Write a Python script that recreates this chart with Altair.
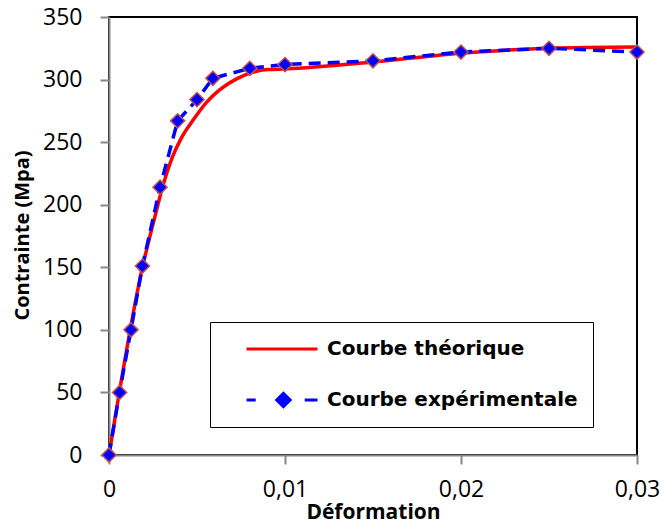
import altair as alt
import pandas as pd

series_names = ["Courbe théorique", "Courbe expérimentale"]

theo_x = [0, 0.0019, 0.0026, 0.0031, 0.0036, 0.0041, 0.0048, 0.00555, 0.0063, 0.0073, 0.0082, 0.0090, 0.0100, 0.0150, 0.0200, 0.0250, 0.0300]
theo_y = [0, 150, 190, 217, 238, 253, 268, 282, 292, 301, 306, 308, 308.5, 314, 321, 325, 326]

exp_x = [0, 0.0006, 0.00125, 0.0019, 0.0029, 0.0039, 0.0050, 0.0059, 0.0080, 0.0100, 0.0150, 0.0200, 0.0250, 0.0300]
exp_y = [0, 50, 100, 151, 214, 267, 284, 301, 309, 312, 315, 322, 325, 322]

x_ticks = [0, 0.01, 0.02, 0.03]
y_ticks = [0, 50, 100, 150, 200, 250, 300, 350]

df_theo = pd.DataFrame({"x": theo_x, "y": theo_y, "series": series_names[0]})
df_exp = pd.DataFrame({"x": exp_x, "y": exp_y, "series": series_names[1]})
df_all = pd.concat([df_theo, df_exp], ignore_index=True)

FONT = "Open Sans"
LEGEND_FONT = "DejaVu Sans"
AXIS_GRAY = "#878787"

x_enc = alt.X(
    "x:Q",
    scale=alt.Scale(domain=[0, 0.03], nice=False),
    axis=alt.Axis(
        values=x_ticks,
        labelExpr="replace(format(datum.value, '.2~f'), '.', ',')",
        title="Déformation",
        grid=False,
        domainColor=AXIS_GRAY, domainWidth=2,
        tickColor=AXIS_GRAY, tickWidth=2, tickSize=9,
        labelFont=FONT, labelFontSize=23, labelColor="black",
        labelPadding=14, labelFlush=False,
        titleFont=FONT, titleFontSize=21, titleFontWeight="bold", titleColor="black",
        titleY=57, titleBaseline="middle",
    ),
)
y_enc = alt.Y(
    "y:Q",
    scale=alt.Scale(domain=[0, 350], nice=False),
    axis=alt.Axis(
        values=y_ticks,
        title="Contrainte (Mpa)",
        grid=False,
        domainColor=AXIS_GRAY, domainWidth=2,
        tickColor=AXIS_GRAY, tickWidth=2, tickSize=9,
        labelFont=FONT, labelFontSize=23, labelColor="black",
        labelPadding=18,
        titleFont=FONT, titleFontSize=20, titleFontWeight="bold", titleColor="black",
        titleX=-87, titleY=218, titleBaseline="middle", titleAlign="center", titleAngle=270,
    ),
)

red_line = alt.Chart(df_theo).mark_line(
    color="#ff0000", strokeWidth=3.5, interpolate="monotone"
).encode(x=x_enc, y=y_enc)

blue_line = alt.Chart(df_exp).mark_line(
    color="#0000ff", strokeWidth=3.5, strokeDash=[12, 7]
).encode(x=x_enc, y=y_enc)

diamonds = alt.Chart(df_exp).mark_point(
    shape="diamond", filled=True, fill="#0000ff", stroke="#c0504d",
    strokeWidth=1.5, size=200, opacity=1
).encode(x=x_enc, y=y_enc)

path_theo = "M-1,0L1,0"
path_exp = "M-1,0L-0.74,0M-0.15,0L0.04,-0.19L0.23,0L0.04,0.19ZM0.64,0L1,0"

legend = alt.Legend(
    title=None, orient="none", legendX=101, legendY=305,
    symbolSize=5041, symbolStrokeWidth=3, symbolOpacity=1,
    labelFont=LEGEND_FONT, labelFontSize=20, labelFontWeight="bold", labelColor="black",
    labelLimit=0, labelOffset=8, symbolOffset=20,
    labelExpr="datum.label + '    '",
    strokeColor="black", fillColor="white", padding=15,
    clipHeight=24, rowPadding=27,
)

carrier = alt.Chart(df_all).mark_point(opacity=0, filled=False).encode(
    x=x_enc, y=y_enc,
    shape=alt.Shape("series:N", scale=alt.Scale(domain=series_names, range=[path_theo, path_exp]), legend=legend),
    stroke=alt.Stroke("series:N", scale=alt.Scale(domain=series_names, range=["#ff0000", "#0000ff"]), legend=legend),
    fill=alt.Fill("series:N", scale=alt.Scale(domain=series_names, range=["#ff0000", "#0000ff"]), legend=legend),
)

chart = alt.layer(red_line, blue_line, diamonds, carrier).properties(
    width=528, height=438,
    autosize=alt.AutoSizeParams(type="none"),
    padding={"left": 109, "top": 17, "right": 26, "bottom": 69},
    background="white",
).configure_view(stroke="black", strokeWidth=2)

chart.save("out.html", embed_options={"renderer": "svg", "actions": False})
